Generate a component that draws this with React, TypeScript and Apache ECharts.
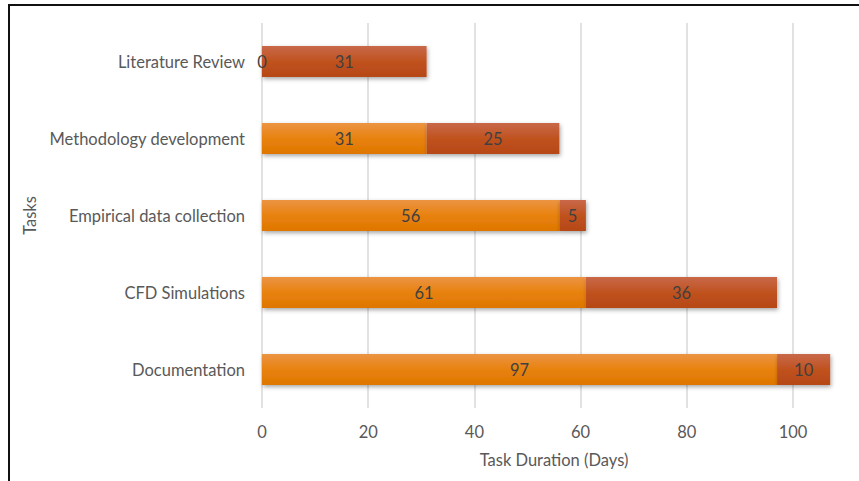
import React, { useEffect, useRef } from "react";
import * as echarts from "echarts";

// Gantt-style schedule: a start-offset segment plus the task duration
const tasks = [
  "Literature Review",
  "Methodology development",
  "Empirical data collection",
  "CFD Simulations",
  "Documentation",
];
const startDays = [0, 31, 56, 61, 97];
const durationDays = [31, 25, 5, 36, 10];
const xTicks = [0, 20, 40, 60, 80, 100];

const FONT = "Lato, 'Open Sans', sans-serif";
const FS = 16.5;

export default function App() {
  const ref = useRef<HTMLDivElement>(null);

  useEffect(() => {
    document.body.style.margin = "0";
    if (!ref.current) return;
    const chart = echarts.init(ref.current, null, { renderer: "svg" });

    const barShadow = {
      shadowBlur: 4,
      shadowOffsetX: 1,
      shadowOffsetY: 2,
      shadowColor: "rgba(0,0,0,0.35)",
    };

    chart.setOption({
      animation: false,
      backgroundColor: "#ffffff",
      textStyle: { fontFamily: FONT },
      grid: { left: 262, right: 66, top: 23, bottom: 73, containLabel: false },
      xAxis: {
        type: "value",
        min: xTicks[0],
        max: xTicks[xTicks.length - 1],
        interval: 20,
        name: "Task Duration (Days)",
        nameLocation: "middle",
        nameGap: 43,
        nameTextStyle: { color: "#595959", fontSize: FS, fontFamily: FONT, padding: [0, 0, 0, 53] },
        axisLine: { show: false },
        axisTick: { show: false },
        axisLabel: { color: "#595959", fontSize: FS, margin: 15, fontFamily: FONT },
        splitLine: { show: true, lineStyle: { color: "#d9d9d9", width: 1.5 } },
      },
      yAxis: {
        type: "category",
        data: tasks,
        inverse: true,
        name: "Tasks",
        nameLocation: "middle",
        nameGap: 217,
        nameRotate: 90,
        nameTextStyle: { color: "#595959", fontSize: FS, fontFamily: FONT },
        axisLine: { show: false },
        axisTick: { show: false },
        splitLine: { show: false },
        axisLabel: { color: "#595959", fontSize: FS, margin: 17, fontFamily: FONT },
      },
      series: [
        {
          name: "Start",
          type: "bar",
          stack: "plan",
          data: startDays,
          barWidth: 31,
          clip: false,
          itemStyle: {
            color: new echarts.graphic.LinearGradient(0, 0, 0, 1, [
              { offset: 0, color: "#ec9444" },
              { offset: 0.5, color: "#e8820e" },
              { offset: 1, color: "#de7600" },
            ]),
            ...barShadow,
          },
          label: {
            show: true,
            position: "inside",
            color: "#404040",
            fontSize: FS,
            fontFamily: FONT,
          },
        },
        {
          name: "Duration",
          type: "bar",
          stack: "plan",
          data: durationDays,
          barWidth: 31,
          clip: false,
          itemStyle: {
            color: new echarts.graphic.LinearGradient(0, 0, 0, 1, [
              { offset: 0, color: "#c8694a" },
              { offset: 0.5, color: "#c0521f" },
              { offset: 1, color: "#b64816" },
            ]),
            ...barShadow,
          },
          label: {
            show: true,
            position: "inside",
            color: "#404040",
            fontSize: FS,
            fontFamily: FONT,
          },
        },
      ],
      graphic: [
        {
          type: "line",
          shape: { x1: 9, y1: 5, x2: 859, y2: 5 },
          style: { stroke: "#111111", lineWidth: 2 },
          silent: true,
        },
        {
          type: "line",
          shape: { x1: 9, y1: 4, x2: 9, y2: 481 },
          style: { stroke: "#111111", lineWidth: 2 },
          silent: true,
        },
      ],
    });

    return () => chart.dispose();
  }, []);

  return <div ref={ref} style={{ width: 859, height: 481 }} />;
}
